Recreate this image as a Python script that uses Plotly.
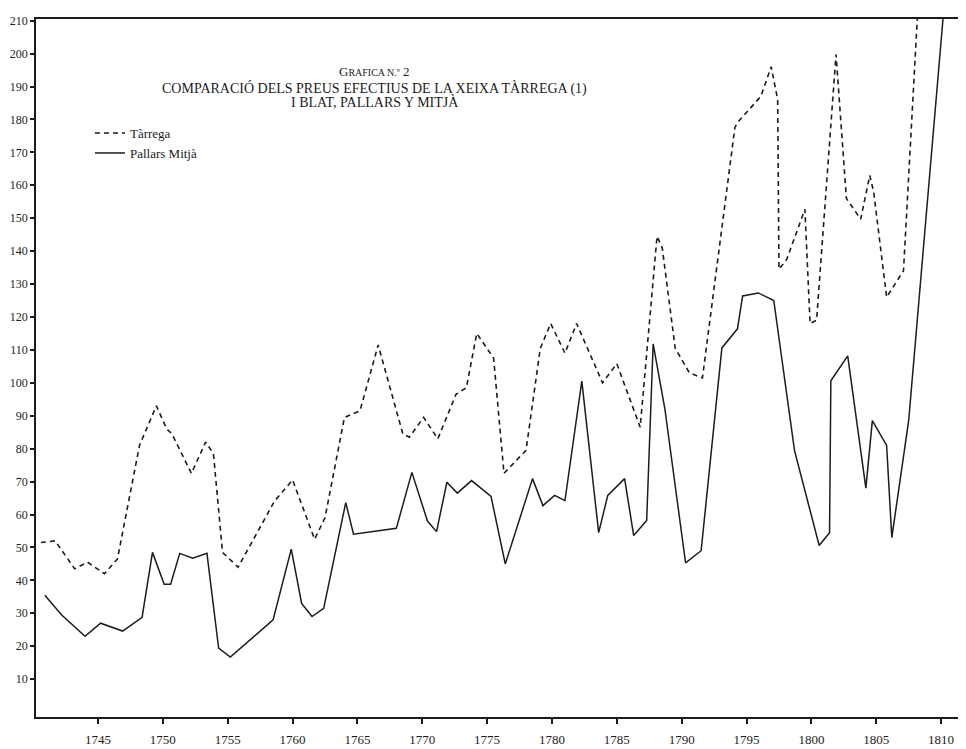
import plotly.graph_objects as go

# Tàrrega (dashed) - decimal years
tarrega_year = [1740.6, 1741.7, 1743.2, 1744.2, 1745.5, 1746.5, 1748.2, 1749.5, 1750.3, 1750.7,
                1752.2, 1753.3, 1753.9, 1754.6, 1755.8, 1758.6, 1760.0, 1761.7, 1762.5, 1764.0,
                1765.2, 1766.6, 1768.5, 1769.0, 1770.1, 1771.2, 1772.6, 1773.4, 1774.2, 1775.5,
                1776.3, 1777.0, 1778.0, 1779.1, 1779.9, 1781.0, 1781.9, 1783.9, 1785.0, 1786.8,
                1788.1, 1788.5, 1789.5, 1790.6, 1791.6, 1794.1, 1794.3, 1796.1, 1796.9, 1797.4,
                1797.5, 1798.1, 1799.5, 1799.9, 1800.4, 1801.9, 1802.7, 1803.8, 1804.5, 1804.8,
                1805.8, 1807.1, 1808.2]
tarrega_val = [51.5, 52, 43.5, 45.5, 42, 46.5, 81, 93, 86, 84.5,
               72.5, 82, 78.5, 48.5, 44, 64, 70.5, 52.5, 59, 89.5,
               91.5, 111.5, 84.5, 83.5, 89.5, 83, 96.5, 98.5, 115, 107.5,
               72.5, 75.5, 79.5, 110.5, 118, 109, 118, 100, 105.8, 86.5,
               144.5, 141, 110.5, 103, 101.5, 177.5, 179, 187, 196, 186,
               134.5, 137.5, 152.7, 118, 119, 199.7, 156, 149.7, 163, 158,
               126, 134, 213]

# Pallars Mitjà (solid)
pallars_year = [1740.9, 1742.2, 1744.0, 1745.2, 1746.9, 1748.4, 1749.2, 1750.1, 1750.6, 1751.3,
                1752.3, 1753.4, 1754.3, 1755.2, 1758.5, 1759.9, 1760.7, 1761.5, 1762.4, 1764.1,
                1764.7, 1768.0, 1769.2, 1770.4, 1771.1, 1771.9, 1772.7, 1773.8, 1775.3, 1776.4,
                1778.5, 1779.3, 1780.2, 1781.0, 1782.3, 1783.6, 1784.3, 1785.6, 1786.3, 1787.3,
                1787.8, 1788.7, 1790.3, 1791.5, 1793.1, 1794.3, 1794.7, 1795.9, 1797.1, 1798.7,
                1800.6, 1801.4, 1801.5, 1802.8, 1804.2, 1804.7, 1805.8, 1806.2, 1807.5, 1810.2]
pallars_val = [35.5, 29.5, 23, 27, 24.6, 28.8, 48.5, 38.8, 38.8, 48.2,
               46.7, 48.2, 19.4, 16.7, 28, 49.5, 33, 29, 31.5, 63.6,
               54, 55.8, 72.8, 58, 54.8, 69.8, 66.5, 70.3, 65.5, 45,
               70.9, 62.7, 65.8, 64.2, 100.5, 54.5, 65.8, 70.9, 53.6, 58.2,
               111.8, 92.2, 45.3, 49, 110.6, 116.4, 126.4, 127.3, 125, 79.4,
               50.6, 54.5, 100.6, 108.2, 68, 88.5, 81, 53, 88.5, 213]

x_ticks = list(range(1745, 1811, 5))
y_ticks = list(range(10, 211, 10))

serif = "Liberation Serif"
ink = "#1c1c1c"

fig = go.Figure()
fig.add_scatter(x=tarrega_year, y=tarrega_val, mode="lines", name="Tàrrega",
                line=dict(color=ink, width=1.6, dash="5px,4px"))
fig.add_scatter(x=pallars_year, y=pallars_val, mode="lines", name="Pallars Mitjà",
                line=dict(color=ink, width=1.5))

# page has an 8px body margin, so the margins are trimmed to compensate
fig.update_layout(
    width=966, height=749,
    margin=dict(l=28, r=8, t=11, b=40),
    paper_bgcolor="white", plot_bgcolor="white",
    font=dict(family=serif, size=13, color=ink),
    showlegend=True,
    legend=dict(x=0.058, y=0.858, xanchor="left", yanchor="top",
                bgcolor="rgba(0,0,0,0)", font=dict(size=13, family=serif),
                itemwidth=30, tracegroupgap=0),
)
fig.update_xaxes(range=[1740.22, 1811.92], tickvals=x_ticks, ticks="outside", ticklen=5,
                 tickwidth=1.5, tickcolor=ink, showline=True, linecolor=ink, linewidth=1.5,
                 mirror=True, showgrid=False, zeroline=False, ticklabelstandoff=5,
                 automargin=False, tickfont=dict(size=13))
fig.update_yaxes(range=[-1.5, 210.5], tickvals=y_ticks, ticks="outside", ticklen=4,
                 tickwidth=1.5, tickcolor=ink, showline=True, linecolor=ink, linewidth=1.5,
                 showgrid=False, zeroline=False, ticklabelstandoff=0,
                 automargin=False, tickfont=dict(size=12))

fig.add_annotation(xref="paper", yref="paper", x=0.364, y=0.939, showarrow=False,
                   text="G<span style='font-size:10px'>RAFICA N.º</span> 2",
                   font=dict(size=13, family=serif))
fig.add_annotation(xref="paper", yref="paper", x=0.364, y=0.916, showarrow=False,
                   text="COMPARACIÓ DELS PREUS EFECTIUS DE LA XEIXA TÀRREGA (1)",
                   font=dict(size=14, family=serif))
fig.add_annotation(xref="paper", yref="paper", x=0.364, y=0.896, showarrow=False,
                   text="I BLAT, PALLARS Y MITJÀ",
                   font=dict(size=14, family=serif))

fig.write_html("out.html")
